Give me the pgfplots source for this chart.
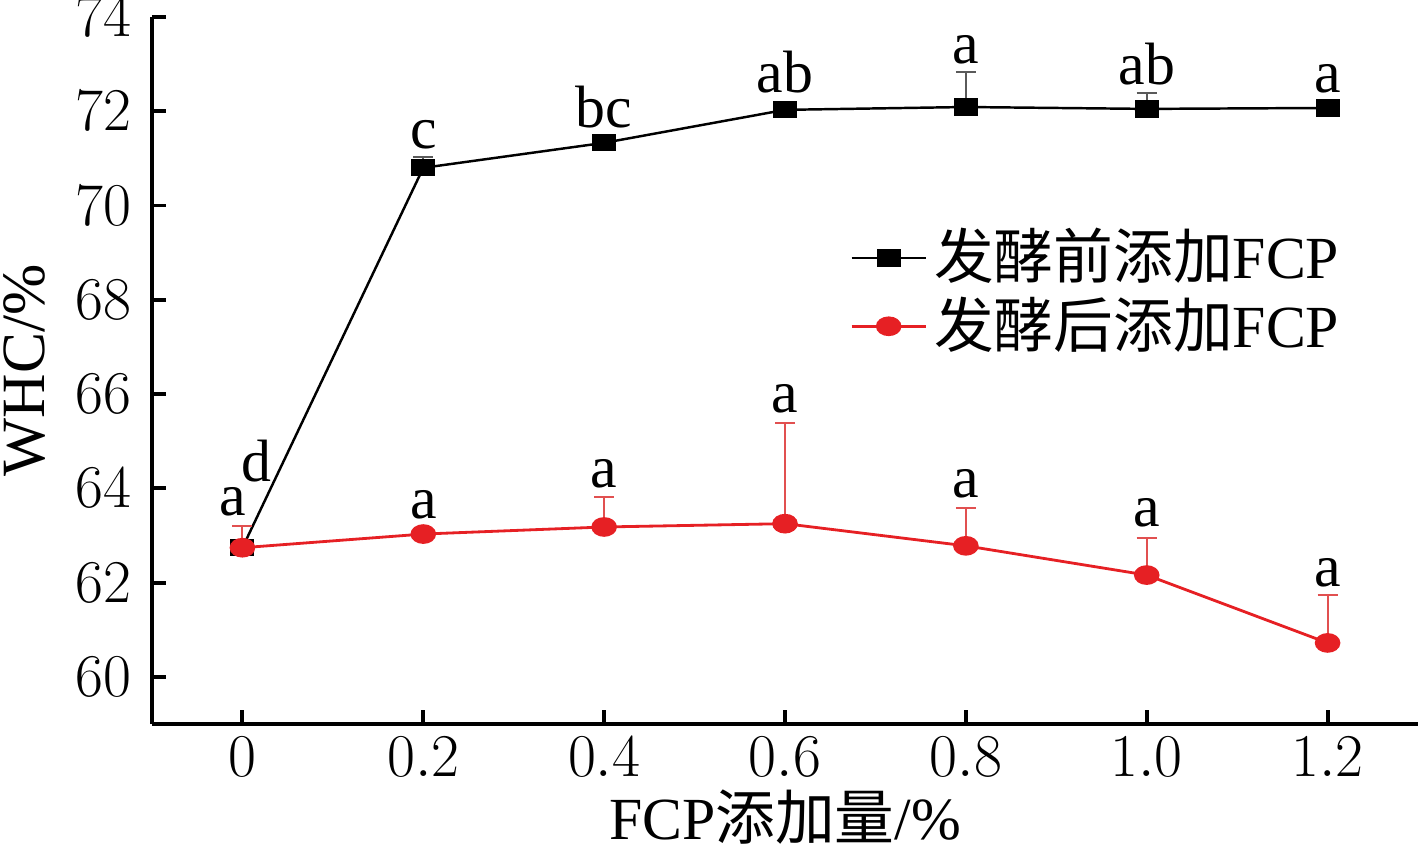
\documentclass[border=0pt]{standalone}
\usepackage{fontspec}
\setmainfont{Liberation Serif}
\newfontfamily\cjk{Noto Sans CJK SC}
\usepackage{pgfplots}
\pgfplotsset{compat=1.18}
\definecolor{myred}{RGB}{230,32,36}
\definecolor{errred}{RGB}{225,80,80}
\definecolor{errgray}{RGB}{90,90,90}
\begin{document}
\fontsize{17}{20}\selectfont
\begin{tikzpicture}
\useasboundingbox (-1.52cm,-1.28cm) rectangle (12.69cm,7.24cm);
\begin{axis}[
  at={(0,0)}, anchor=south west,
  scale only axis,
  width=12.66cm, height=7.07cm,
  xmin=-0.1, xmax=1.3,
  ymin=59, ymax=74,
  axis lines=left,
  axis line style={-, line width=1.1pt},
  tick align=inside,
  major tick length=1.4mm,
  tick style={line width=1.1pt, black},
  xtick={0,0.2,0.4,0.6,0.8,1.0,1.2},
  xticklabels={$0$,$0.2$,$0.4$,$0.6$,$0.8$,$1.0$,$1.2$},
  ytick={60,62,64,66,68,70,72,74},
  ticklabel style={font=\fontsize{17}{20}\selectfont},
  xticklabel style={yshift=2pt},
  xlabel={FCP{\cjk 添加量}/\%},
  ylabel={WHC/\%},
  label style={font=\fontsize{17.5}{20}\selectfont},
  xlabel style={yshift=3.2pt, inner sep=1pt, font=\fontsize{17}{20}\selectfont},
  ylabel style={yshift=-3pt},
  legend style={at={(0.551,0.712)}, anchor=north west, draw=none, fill=none,
    inner sep=0pt, row sep=-1.5pt, font=\fontsize{17}{20}\selectfont},
  legend cell align=left,
  legend image code/.code={\draw[mark repeat=2,mark phase=2] plot coordinates {(0cm,0cm)(0.37cm,0cm)(0.74cm,0cm)};},
  clip=false,
]
\addplot[black, line width=0.7pt, mark=square*, mark size=2.1pt,
  mark options={xscale=1.45, solid},
  error bars/.cd, y dir=plus, y explicit,
  error bar style={line width=0.5pt, errgray},
  error mark options={rotate=90, mark size=1mm, line width=0.5pt, errgray}]
coordinates {
(0,62.74) +- (0,0.1)
(0.2,70.80) +- (0,0.23)
(0.4,71.33) +- (0,0.05)
(0.6,72.03) +- (0,0.05)
(0.8,72.09) +- (0,0.74)
(1.0,72.05) +- (0,0.34)
(1.2,72.07) +- (0,0.05)
};
\addlegendentry{{\cjk 发酵前添加}FCP}
\addplot[myred, line width=0.8pt, mark=*, mark size=2.4pt,
  mark options={xscale=1.35, solid},
  error bars/.cd, y dir=plus, y explicit,
  error bar style={line width=0.6pt, errred},
  error mark options={rotate=90, mark size=1mm, line width=0.6pt, errred}]
coordinates {
(0,62.74) +- (0,0.46)
(0.2,63.03) +- (0,0.1)
(0.4,63.18) +- (0,0.64)
(0.6,63.25) +- (0,2.14)
(0.8,62.78) +- (0,0.81)
(1.0,62.16) +- (0,0.79)
(1.2,60.72) +- (0,1.02)
};
\addlegendentry{{\cjk 发酵后添加}FCP}
% significance letters
\node[anchor=base] at (axis cs:0.016,64.14) {d};
\node[anchor=base] at (axis cs:0.2,71.22) {c};
\node[anchor=base] at (axis cs:0.4,71.65) {bc};
\node[anchor=base] at (axis cs:0.6,72.39) {ab};
\node[anchor=base] at (axis cs:0.8,73.02) {a};
\node[anchor=base] at (axis cs:1.0,72.56) {ab};
\node[anchor=base] at (axis cs:1.2,72.39) {a};
\node[anchor=base] at (axis cs:-0.011,63.42) {a};
\node[anchor=base] at (axis cs:0.2,63.37) {a};
\node[anchor=base] at (axis cs:0.4,64.01) {a};
\node[anchor=base] at (axis cs:0.6,65.60) {a};
\node[anchor=base] at (axis cs:0.8,63.80) {a};
\node[anchor=base] at (axis cs:1.0,63.18) {a};
\node[anchor=base] at (axis cs:1.2,61.91) {a};
\end{axis}
\end{tikzpicture}
\end{document}
